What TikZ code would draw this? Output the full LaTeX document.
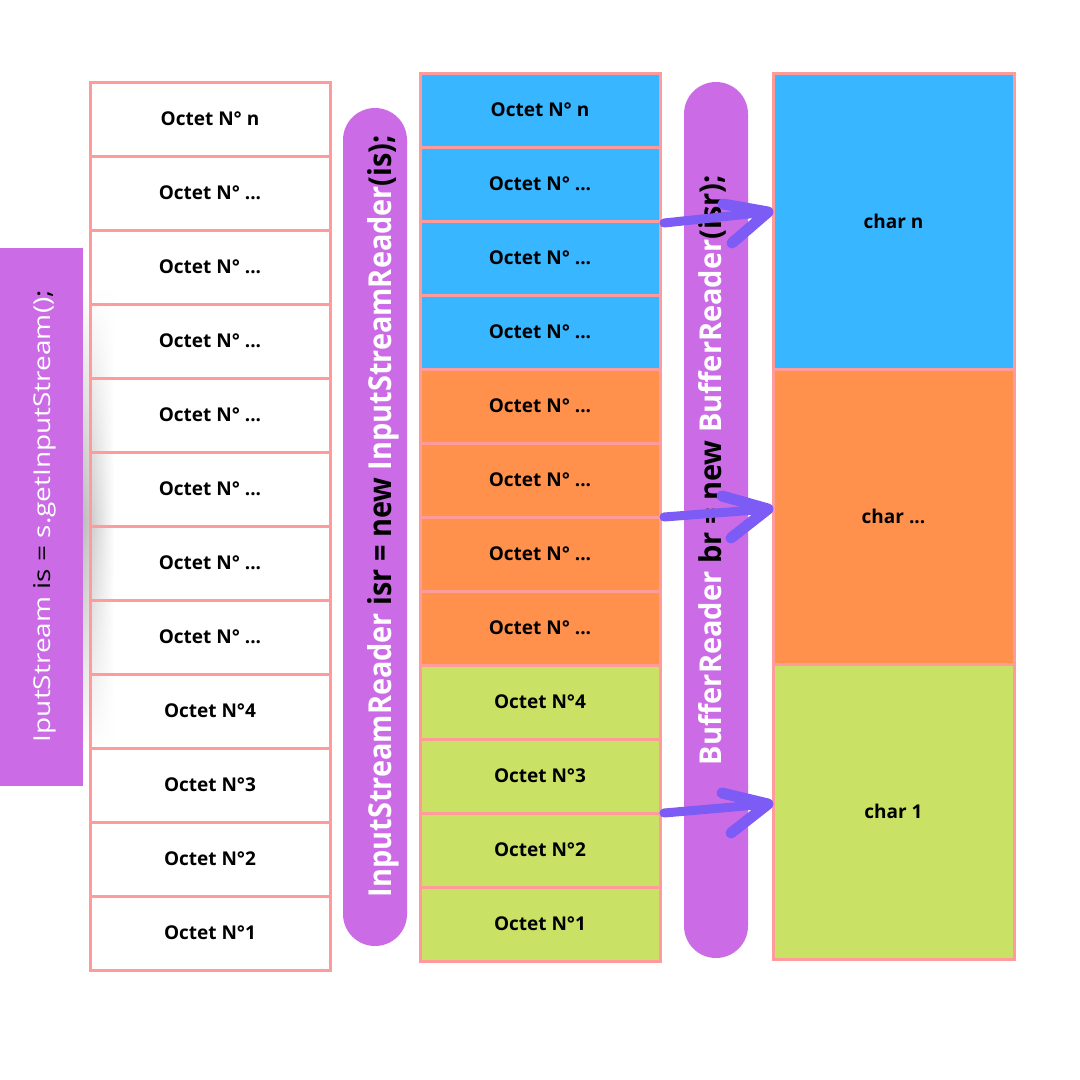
\documentclass[tikz,border=0pt]{standalone}
\usepackage{fontspec}
\setmainfont{Open Sans}
\usetikzlibrary{fadings}
\definecolor{pinkb}{HTML}{FF9B9B}
\definecolor{blu}{HTML}{38B6FF}
\definecolor{ora}{HTML}{FF914D}
\definecolor{gre}{HTML}{C9E265}
\definecolor{pur}{HTML}{CB6CE6}
\definecolor{arrc}{HTML}{7D5BF5}
\tikzfading[name=vfade, top color=transparent!100, bottom color=transparent!100, middle color=transparent!0]
\begin{document}
\begin{tikzpicture}[x=1pt,y=-1pt,
  cell/.style={draw=pinkb, line width=3pt, minimum width=240pt, minimum height=74pt,
    inner sep=0pt, font=\fontsize{19}{22}\selectfont\bfseries, text=black},
  bigcell/.style={cell, minimum width=241pt, minimum height=295pt},
  pill/.style={fill=pur, rounded corners=32pt},
  vtext/.style={anchor=base, rotate=90, inner sep=0pt, font=\bfseries, text=black},
  arrline/.style={draw=arrc, line width=10pt, line cap=round, line join=round}]
\fill[white] (0,0) rectangle (1080,1080);
\path[use as bounding box] (0,0) rectangle (1080,1080);

% shadow of the left bar
\shade[left color=black!26, right color=white, path fading=vfade] (83,290) rectangle (114,750);

% left column
\foreach \i/\t in {1/{Octet N° n},2/{Octet N° ...},3/{Octet N° ...},4/{Octet N° ...},
  5/{Octet N° ...},6/{Octet N° ...},7/{Octet N° ...},8/{Octet N° ...},
  9/{Octet N°4},10/{Octet N°3},11/{Octet N°2},12/{Octet N°1}}
  \node[cell] (l\i) at (210,{119+74*(\i-1)}) {\t};

% middle column
\foreach \i/\t/\c in {1/{Octet N° n}/blu,2/{Octet N° ...}/blu,3/{Octet N° ...}/blu,4/{Octet N° ...}/blu,
  5/{Octet N° ...}/ora,6/{Octet N° ...}/ora,7/{Octet N° ...}/ora,8/{Octet N° ...}/ora,
  9/{Octet N°4}/gre,10/{Octet N°3}/gre,11/{Octet N°2}/gre,12/{Octet N°1}/gre}
  \node[cell, fill=\c] (m\i) at (540,{110+74*(\i-1)}) {\t};

% right column
\node[bigcell, fill=blu, minimum height=296pt] (r1) at (893.5,221) {char n};
\node[bigcell, fill=ora] (r2) at (893.5,516.5) {char ...};
\node[bigcell, fill=gre] (r3) at (893.5,811.5) {char 1};

% left bar
\fill[pur] (0,248) rectangle (83,786);
\node[vtext, font=\mdseries] (t0) at (50,516)
  {\resizebox{452pt}{17pt}{\textcolor{white}{IputStream} is = \textcolor{white}{s.getInputStream()};}};

% pills
\fill[pill] (343,108) rectangle (407,946);
\fill[pill] (684,82) rectangle (748,958);
\node[vtext] (t1) at (391,516)
  {\resizebox{762pt}{24pt}{\textcolor{white}{InputStreamReader} isr = new \textcolor{white}{InputStreamReader}(is);}};
\node[vtext] (t2) at (721,470)
  {\resizebox{590pt}{23pt}{\textcolor{white}{BufferReader} br = new \textcolor{white}{BufferReader}(isr);}};

% arrows
\coordinate (a1s) at (664,223); \coordinate (a1t) at (768,212);
\coordinate (a1u) at (723,204); \coordinate (a1d) at (732,243);
\coordinate (a2s) at (664,517); \coordinate (a2t) at (768,509);
\coordinate (a2u) at (722,496); \coordinate (a2d) at (731,538);
\coordinate (a3s) at (664,813); \coordinate (a3t) at (768,804);
\coordinate (a3u) at (722,793); \coordinate (a3d) at (731,833);
\foreach \k in {1,2,3}{
  \draw[arrline, line width=9pt] (a\k s) -- (a\k t);
  \draw[arrline, line width=11pt] (a\k u) -- (a\k t) -- (a\k d);
}
\end{tikzpicture}
\end{document}
